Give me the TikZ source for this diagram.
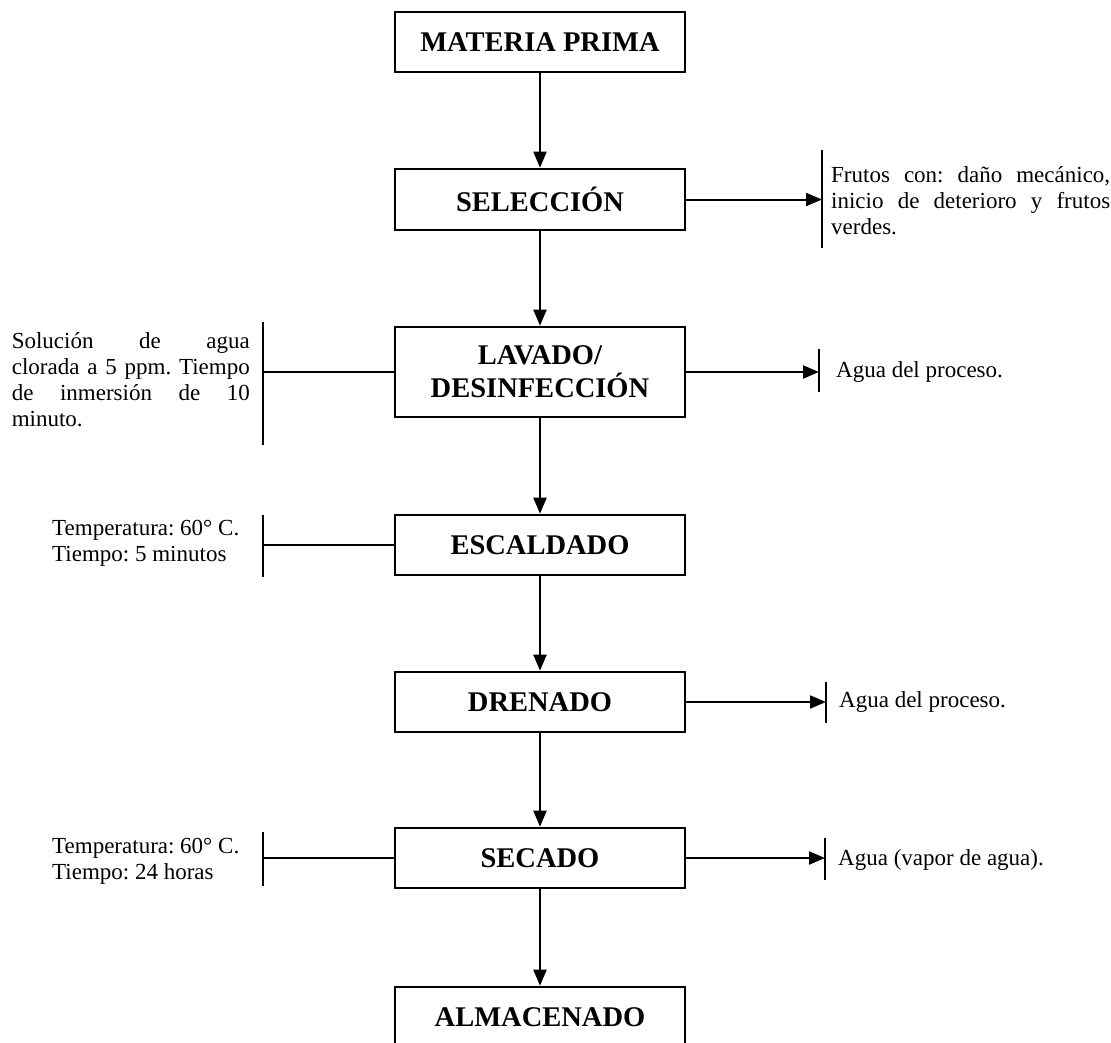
\documentclass[tikz,border=0pt]{standalone}
\usepackage{fontspec}
\setmainfont{Liberation Serif}
\usetikzlibrary{arrows.meta}
\frenchspacing
\begin{document}
\begin{tikzpicture}[x=1pt,y=-1pt,
  procbox/.style={draw, line width=2.6pt, minimum width=290pt, minimum height=60pt, inner sep=0pt, align=center, font=\fontsize{28.5}{33}\selectfont\bfseries},
  note/.style={inner sep=0pt, font=\fontsize{23}{26}\selectfont},
  jnote/.style={note, align=justify},
  flow/.style={line width=2pt, -{Triangle[length=16pt,width=13pt]}},
  link/.style={line width=2pt},
  barline/.style={line width=1.8pt}]
\useasboundingbox (0,0) rectangle (1111,1042);

% process boxes
\node[procbox] (mp)  at (540,42)    {MATERIA PRIMA};
\node[procbox, minimum height=61pt] (sel) at (540,199.5) {SELECCIÓN};
\node[procbox, minimum height=90pt] (lav) at (540,372)  {LAVADO/\\DESINFECCIÓN};
\node[procbox] (esc) at (540,545)   {ESCALDADO};
\node[procbox] (dre) at (540,702)   {DRENADO};
\node[procbox] (sec) at (540,858)   {SECADO};
\node[procbox] (alm) at (540,1017)  {ALMACENADO};

% main flow
\draw[flow] (mp) -- (sel);
\draw[flow] (sel) -- (lav);
\draw[flow] (lav) -- (esc);
\draw[flow] (esc) -- (dre);
\draw[flow] (dre) -- (sec);
\draw[flow] (sec) -- (alm);

% right-side outputs
\coordinate (selR) at (822,199.5);
\coordinate (lavR) at (819,372);
\coordinate (dreR) at (826,702);
\coordinate (secR) at (825,858);
\draw[flow] (sel.east) -- (selR);
\draw[flow] (lav.east) -- (lavR);
\draw[flow] (dre.east) -- (dreR);
\draw[flow] (sec.east) -- (secR);
\draw[barline] (822,150) -- (822,248);
\draw[barline] (819,349) -- (819,392);
\draw[barline] (826,682) -- (826,723);
\draw[barline] (825,838) -- (825,880);

\node[jnote, anchor=west, text width=279pt] (selT) at (831,201)
  {Frutos con: daño mecánico,\linebreak inicio de deterioro y frutos\linebreak verdes.};
\node[note, anchor=west] (lavT) at (836,372) {Agua del proceso.};
\node[note, anchor=west] (dreT) at (839,702) {Agua del proceso.};
\node[note, anchor=west] (secT) at (838,860) {Agua (vapor de agua).};

% left-side inputs
\coordinate (lavL) at (263,372);
\coordinate (escL) at (263,545);
\coordinate (secL) at (263,858);
\draw[link] (lavL) -- (lav.west);
\draw[link] (escL) -- (esc.west);
\draw[link] (secL) -- (sec.west);
\draw[barline] (263,322) -- (263,445);
\draw[barline] (263,515) -- (263,577);
\draw[barline] (263,832) -- (263,886);

\node[jnote, anchor=east, text width=238pt] (lavT2) at (250,380)
  {Solución de agua\linebreak clorada a 5 ppm. Tiempo\linebreak de inmersión de 10\linebreak minuto.};
\node[note, anchor=west, align=left] (escT) at (52,543)
  {Temperatura: 60° C.\\Tiempo: 5 minutos};
\node[note, anchor=west, align=left] (secT2) at (52,861)
  {Temperatura: 60° C.\\Tiempo: 24 horas};
\end{tikzpicture}
\end{document}
